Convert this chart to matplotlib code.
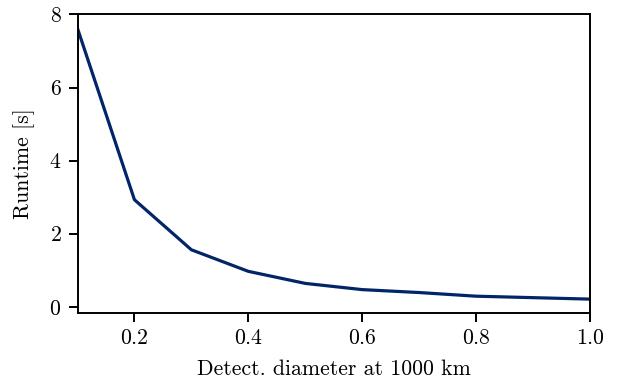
import matplotlib
matplotlib.use("Agg")
import matplotlib.pyplot as plt

plt.rcParams['font.family'] = ['cmr10', 'DejaVu Serif']
plt.rcParams['mathtext.fontset'] = 'cm'
plt.rcParams['axes.formatter.use_mathtext'] = True

diameter = [0.1, 0.2, 0.3, 0.4, 0.5, 0.6, 0.7, 0.8, 1.0]
runtime = [7.62, 2.93, 1.56, 0.97, 0.64, 0.47, 0.39, 0.29, 0.21]

fig = plt.figure(figsize=(6.17, 3.87), dpi=100)
ax = fig.add_axes([77.5/617, 1 - 313/387, (590 - 77.5)/617, (313 - 14.5)/387])
ax.plot(diameter, runtime, color='#022567', lw=2.3)
ax.set_xlim(0.1, 1.0)
ax.set_ylim(-0.17, 8)
ax.set_xticks([0.2, 0.4, 0.6, 0.8, 1.0])
ax.set_yticks([0, 2, 4, 6, 8])
ax.tick_params(labelsize=15.7, width=1.4, length=6.5, pad=5)
for s in ax.spines.values():
    s.set_linewidth(1.4)
ax.set_xlabel('Detect. diameter at 1000 km', fontsize=15.7, labelpad=8)
ax.set_ylabel('Runtime [s]', fontsize=15.7, labelpad=10)
fig.savefig('out.png', dpi=100)
